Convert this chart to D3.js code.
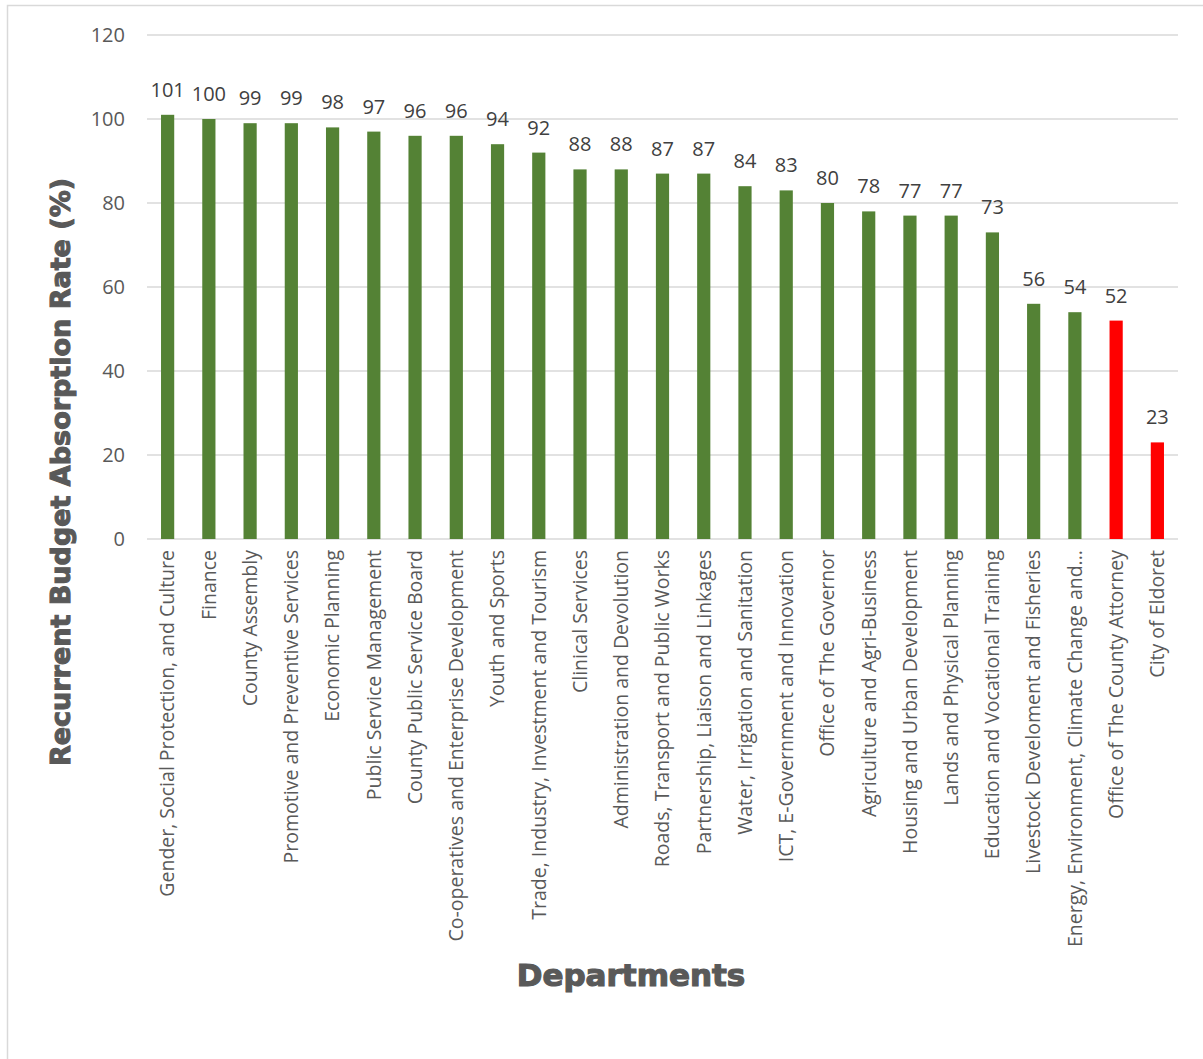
<!DOCTYPE html>
<html>
<head>
<meta charset="utf-8">
<script src="https://cdn.jsdelivr.net/npm/d3@7"></script>
<style>
  body { margin: 0; background: #fff; }
  svg text { font-family: "Open Sans", "Noto Sans", sans-serif; }
</style>
</head>
<body>
<div id="chart"></div>
<script>
const departments = [
  'Gender, Social Protection, and Culture',
  'Finance',
  'County Assembly',
  'Promotive and Preventive Services',
  'Economic Planning',
  'Public Service Management',
  'County Public Service Board',
  'Co-operatives and Enterprise Development',
  'Youth and Sports',
  'Trade, Industry, Investment and Tourism',
  'Clinical Services',
  'Administration and Devolution',
  'Roads, Transport and Public Works',
  'Partnership, Liaison and Linkages',
  'Water, Irrigation and Sanitation',
  'ICT, E-Government and Innovation',
  'Office of The Governor',
  'Agriculture and Agri-Business',
  'Housing and Urban Development',
  'Lands and Physical Planning',
  'Education and Vocational Training',
  'Livestock Develoment and Fisheries',
  'Energy, Environment, Climate Change and...',
  'Office of The County Attorney',
  'City of Eldoret'
];
const absorption = [101, 100, 99, 99, 98, 97, 96, 96, 94, 92, 88, 88, 87, 87, 84, 83, 80, 78, 77, 77, 73, 56, 54, 52, 23];
const lowPerformers = ['Office of The County Attorney', 'City of Eldoret'];
const yTicks = [0, 20, 40, 60, 80, 100, 120];

(function () {
  'use strict';

  const width = 1203;
  const height = 1059;
  const margin = { top: 35, right: 25, bottom: 520, left: 147 };

  const svg = d3.select('#chart')
    .append('svg')
    .attr('width', width)
    .attr('height', height);

  // frame
  svg.append('rect')
    .attr('x', 7.5).attr('y', 5.5)
    .attr('width', width).attr('height', height)
    .attr('fill', 'none')
    .attr('stroke', '#d9d9d9')
    .attr('stroke-width', 1.5);

  const x = d3.scaleBand()
    .domain(departments)
    .range([margin.left, width - margin.right])
    .paddingInner(0.68)
    .paddingOuter(0.34);

  const y = d3.scaleLinear()
    .domain([0, 120])
    .range([height - margin.bottom, margin.top]);

  // gridlines
  svg.append('g')
    .selectAll('line')
    .data(yTicks)
    .enter()
    .append('line')
    .attr('x1', margin.left)
    .attr('x2', width - margin.right)
    .attr('y1', d => y(d))
    .attr('y2', d => y(d))
    .attr('stroke', '#d9d9d9')
    .attr('stroke-width', 1.5);

  // y axis labels
  const yAxis = svg.append('g')
    .attr('transform', `translate(${margin.left - 22},0)`)
    .call(d3.axisLeft(y).tickValues(yTicks).tickSize(0).tickPadding(0));
  yAxis.select('.domain').remove();
  yAxis.selectAll('text')
    .attr('font-size', '20px')
    .attr('fill', '#595959')
    .style('font-family', '"Open Sans", sans-serif');

  // bars
  svg.append('g')
    .selectAll('rect')
    .data(departments)
    .enter()
    .append('rect')
    .attr('x', d => x(d))
    .attr('width', x.bandwidth())
    .attr('y', (d, i) => y(absorption[i]))
    .attr('height', (d, i) => y(0) - y(absorption[i]))
    .attr('fill', d => lowPerformers.includes(d) ? '#ff0000' : '#548235');

  // value labels
  svg.append('g')
    .selectAll('text')
    .data(departments)
    .enter()
    .append('text')
    .attr('x', d => x(d) + x.bandwidth() / 2)
    .attr('y', (d, i) => y(absorption[i]) - 18)
    .attr('text-anchor', 'middle')
    .attr('font-size', '20px')
    .attr('fill', '#404040')
    .text((d, i) => absorption[i]);

  // x axis category labels
  const xAxis = svg.append('g')
    .attr('transform', `translate(0,${y(0)})`)
    .call(d3.axisBottom(x).tickSize(0).tickPadding(0));
  xAxis.select('.domain').remove();
  xAxis.selectAll('text')
    .attr('transform', 'rotate(-90)')
    .attr('x', -11)
    .attr('y', 0)
    .attr('dy', '0.35em')
    .attr('text-anchor', 'end')
    .attr('font-size', '19.5px')
    .attr('fill', '#595959')
    .style('font-family', '"Open Sans", sans-serif');

  // axis titles
  svg.append('text')
    .attr('x', 631)
    .attr('y', 986)
    .attr('text-anchor', 'middle')
    .attr('font-size', '31px')
    .attr('font-weight', 900)
    .attr('fill', '#595959')
    .attr('stroke', '#595959')
    .attr('stroke-width', 1.2)
    .style('font-family', '"DejaVu Sans", sans-serif')
    .text('Departments');

  svg.append('text')
    .attr('transform', `translate(70,${(y(0) + y(120)) / 2 + 185}) rotate(-90)`)
    .attr('text-anchor', 'middle')
    .attr('font-size', '27px')
    .attr('font-weight', 900)
    .attr('fill', '#595959')
    .attr('stroke', '#595959')
    .attr('stroke-width', 1.1)
    .style('font-family', '"DejaVu Sans", sans-serif')
    .text('Recurrent Budget Absorption Rate (%)');
})();
</script>
</body>
</html>
